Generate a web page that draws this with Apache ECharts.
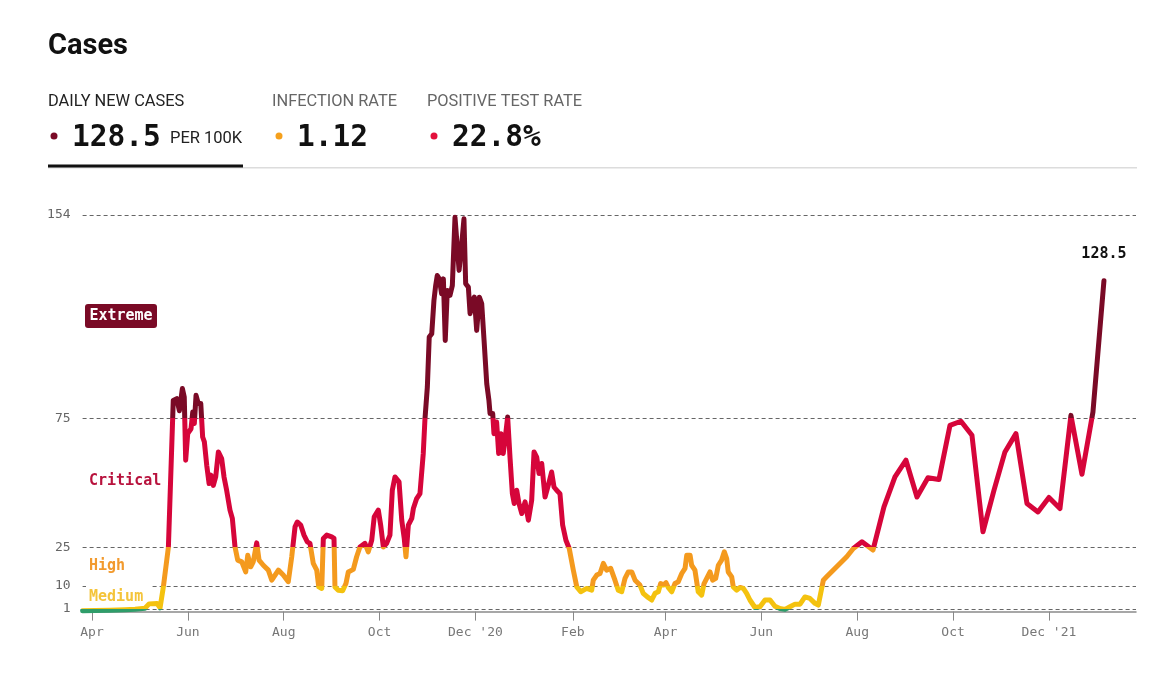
<!DOCTYPE html>
<html>
<head>
<meta charset="utf-8">
<script src="https://cdn.jsdelivr.net/npm/echarts@6/dist/echarts.min.js"></script>
<style>
  html, body { margin: 0; padding: 0; background: #fff; }
  #chart { width: 1170px; height: 675px; }
</style>
</head>
<body>
<div id="chart"></div>
<script>
// ---- Data ----
// x: days since 2020-04-01, y: daily new cases per 100K
const startDate = '2020-04-01';
const dayOffsets = [
  -6, 2, 11.5, 21, 27.4, 33.7, 36.3, 41.4, 43.3, 44.5, 45.4, 48.6, 51.7, 53.9, 55.6, 57.5, 58.7, 59.6, 60.9, 63,
  64.1, 65.1, 66.2, 67.6, 69.2, 70.4, 71.5, 73, 74.5, 75.7, 77.2, 78.7, 80.4, 82.5, 84, 85.7, 87.8, 89.3, 91, 92.7,
  95.3, 97.8, 99.1, 101, 102.6, 104.8, 106.3, 109, 112.2, 114.4, 118.6, 121.7, 124.9, 127.1, 129.2, 130.6, 132.8, 134.9, 137, 138.7,
  140.8, 143, 144.3, 146.2, 147.2, 149.4, 152.5, 154, 154.6, 156.7, 159.5, 161.6, 163.1, 166.3, 168.4, 170.5, 173.7, 175.8, 178, 179.6,
  182.2, 183.7, 185.4, 187.5, 189.6, 191.1, 192.8, 195.4, 197.1, 198.7, 199.8, 201.3, 203.5, 204.5, 206.6, 208.7, 210.8, 211.9, 213.4, 214.6,
  216.2, 217.6, 218.7, 219.7, 221, 222.5, 223.6, 224.8, 226.1, 227.8, 229.3, 231, 232.1, 233.6, 235.3, 236.7, 237.8, 239.5, 240.6, 242,
  243.3, 244.8, 246.5, 248, 249.5, 251.2, 252.6, 253.3, 255, 255.8, 257.5, 258.8, 260.3, 261.7, 263.3, 264.5, 266, 267.5, 268.7, 270.3,
  271.7, 273.5, 275.6, 277.7, 279.8, 281.3, 283, 284.5, 286.2, 288.3, 290.4, 292.5, 294, 295.7, 297.8, 299.5, 301.6, 303.7, 306.3, 308.5,
  311, 314.8, 318, 319, 321.2, 323.3, 325.4, 327.5, 330.1, 332.8, 334.9, 337.1, 339.2, 341.3, 343.5, 345.6, 348.7, 350.8, 353.4, 356.2,
  358.3, 360.4, 361.9, 363.6, 365.3, 366.7, 368.9, 371, 373.1, 375.3, 377.4, 378.5, 380.6, 381.6, 383.7, 385.8, 388, 389.5, 391.2, 393.3,
  395, 396.9, 398.6, 400.7, 402.4, 403.9, 404.9, 407.1, 408.1, 410.3, 412.4, 414.5, 416.6, 418.7, 421.9, 425.1, 428.3, 431.5, 434.6, 437.8,
  441, 444.2, 447.4, 450.6, 453.7, 456.9, 460.1, 462.2, 465.4, 467.5, 473.9, 480.3, 484.5, 490, 497, 504, 511, 518, 525, 532,
  539, 546, 553, 560, 567, 574, 581, 588, 595, 602, 609, 616, 623, 630, 637, 644
];
const casesPer100k = [
  0.3, 0.4, 0.5, 0.7, 0.9, 1.3, 3.0, 3.1, 1.5, 1.2, 9.6, 25, 82, 82.7, 78, 86.6, 83.3, 58.8, 69.1, 71,
  77.5, 73, 84, 80.8, 80.8, 67.8, 65.9, 56.8, 49.7, 53, 49, 52.3, 62, 59.4, 52.3, 47, 39.4, 36.2, 25.1, 20,
  19.3, 15.4, 21.9, 17.4, 19.3, 26.7, 20, 18, 16.1, 12.2, 16.1, 14.2, 11.6, 21.3, 32.9, 34.8, 33.6, 29.7, 27.1, 26.5,
  18.7, 16.1, 9.6, 9, 28.4, 29.7, 29, 28.4, 9.6, 8.3, 8.1, 10.9, 15.4, 16.4, 21.3, 25.1, 26.5, 23.2, 27.7, 36.8,
  39.4, 33.6, 25.1, 26.5, 29.7, 47.1, 52.3, 50.4, 35.5, 28.4, 21.3, 33.6, 36.2, 40, 43.9, 45.8, 61.4, 74.9, 87.2, 106.6,
  107.9, 120.8, 126.6, 130.5, 129.2, 123.4, 129.2, 105.3, 124.7, 122.8, 126.6, 153.1, 153.8, 132.5, 142.8, 152.5, 127.3, 126, 115.7, 120.8,
  122.1, 109.2, 122.1, 119.6, 105.3, 88.5, 82, 76.9, 76.9, 69.1, 73.6, 61.4, 69.1, 61.4, 69.1, 75.6, 60, 45.8, 42, 47.1,
  42, 38.1, 42.6, 35.5, 43.2, 62, 60, 53.6, 57.5, 44.5, 49.1, 54.2, 48.4, 47.1, 45.8, 33.6, 27.7, 24.5, 16.1, 9.6,
  7.7, 9, 8.3, 12.2, 14.2, 14.8, 18.7, 16.1, 16.8, 12.2, 8.3, 7.7, 12.9, 15.4, 15.4, 12.2, 10.3, 7.1, 5.7, 4.5,
  7.1, 7.7, 10.9, 10.3, 11.2, 9.4, 7.7, 10.9, 11.6, 14.8, 16.8, 21.9, 21.9, 18, 16.1, 7.7, 6.4, 10.9, 12.9, 15.4,
  12.2, 12.9, 18, 20, 23.2, 20.6, 15.4, 13.5, 9.6, 8.3, 9.4, 9, 7.1, 4.5, 1.6, 1.9, 4.5, 4.5, 2.1, 1.2,
  0.85, 1.9, 2.9, 2.9, 5.7, 5.1, 3.2, 2.5, 12.2, 13.5, 17.4, 21.3, 24.5, 27.1, 23.9, 40.7, 52.3, 58.8, 44.5, 52,
  51.3, 72.3, 73.9, 68.5, 31, 47.1, 62, 69.1, 42, 38.7, 44.3, 40, 76.2, 53.3, 77.5, 128.5
];
const refLineValues = [154, 75, 25, 10, 1];
const tickDates = ['2020-04-01','2020-06-01','2020-08-01','2020-10-01','2020-12-01','2021-02-01',
                   '2021-04-01','2021-06-01','2021-08-01','2021-10-01','2021-12-01'];
const tickLabels = ['Apr','Jun','Aug','Oct',"Dec '20",'Feb','Apr','Jun','Aug','Oct',"Dec '21"];
const axisStartDay = -6;
const axisEndDay = 664.4;
const levelNames = ['Extreme','Critical','High','Medium'];
const metricTitles = ['DAILY NEW CASES','INFECTION RATE','POSITIVE TEST RATE'];
const metricValues = ['128.5','1.12','22.8%'];

// ---- helpers ----
const DAY = 86400000;
function parseUTC(s) { const p = s.split('-').map(Number); return Date.UTC(p[0], p[1]-1, p[2]); }
const base = parseUTC(startDate);
const seriesData = dayOffsets.map((d, i) => [d, casesPer100k[i]]);
const tickDays = tickDates.map(s => Math.round((parseUTC(s) - base) / DAY));
const last = seriesData[seriesData.length - 1];

const C = {
  extreme: '#7a0a26', critical: '#d6053a', high: '#f49a1e', medium: '#f4c20f', low: '#2f9d6a'
};
const MONO = '"DejaVu Sans Mono", "Liberation Mono", monospace';
const SANS = 'Roboto, "Noto Sans", sans-serif';

const chart = echarts.init(document.getElementById('chart'), null, { renderer: 'canvas' });

const option = {
  animation: false,
  backgroundColor: '#fff',
  grid: { left: 82.6, right: 34, top: 215, bottom: 63.4, containLabel: false },
  xAxis: {
    type: 'value',
    min: axisStartDay,
    max: axisEndDay,
    axisLine: { show: true, lineStyle: { color: '#8a8a8a', width: 1.5 } },
    axisTick: { show: true, customValues: tickDays, length: 9, lineStyle: { color: '#888', width: 1 } },
    axisLabel: {
      show: true, customValues: tickDays, margin: 15,
      fontFamily: MONO, fontSize: 13, color: '#777',
      formatter: function (val) {
        const i = tickDays.indexOf(Math.round(val));
        return i >= 0 ? tickLabels[i] : '';
      }
    },
    splitLine: { show: false }
  },
  yAxis: {
    type: 'value', min: 0, max: 154,
    axisLine: { show: false }, axisTick: { show: false }, axisLabel: { show: false },
    splitLine: { show: false }
  },
  visualMap: {
    type: 'piecewise', show: false, dimension: 1, seriesIndex: 0,
    pieces: [
      { lt: 1, color: C.low },
      { gte: 1, lt: 10, color: C.medium },
      { gte: 10, lt: 25, color: C.high },
      { gte: 25, lt: 75, color: C.critical },
      { gte: 75, color: C.extreme }
    ]
  },
  series: [{
    type: 'line',
    data: seriesData,
    showSymbol: false,
    clip: false,
    lineStyle: { width: 5, join: 'round', cap: 'round' },
    z: 5,
    markLine: {
      silent: true,
      symbol: ['none', 'none'],
      z: 1,
      lineStyle: { type: [4, 3], color: '#666', width: 1 },
      label: {
        show: true, position: 'start', distance: 12,
        fontFamily: MONO, fontSize: 13, color: '#666',
        formatter: p => String(p.value)
      },
      emphasis: { disabled: true },
      data: refLineValues.map(v => ({ yAxis: v }))
    },
    markPoint: {
      silent: true,
      symbol: 'circle', symbolSize: 0,
      data: [{ coord: last, value: last[1] }],
      label: {
        show: true, position: 'top', distance: 19,
        fontFamily: MONO, fontWeight: 'bold', fontSize: 15, color: '#111',
        formatter: p => Number(p.value).toFixed(1)
      }
    }
  }],
  graphic: [
    { type: 'text', z: 100, style: { x: 48, y: 47, text: 'Cases', font: 'bold 29px ' + SANS, fill: '#111', textVerticalAlign: 'middle' } },
    { type: 'text', z: 100, style: { x: 48, y: 102, text: metricTitles[0], font: '16.4px ' + SANS, fill: '#222', textVerticalAlign: 'middle' } },
    { type: 'text', z: 100, style: { x: 272, y: 102, text: metricTitles[1], font: '16.4px ' + SANS, fill: '#666', textVerticalAlign: 'middle' } },
    { type: 'text', z: 100, style: { x: 427, y: 102, text: metricTitles[2], font: '16.4px ' + SANS, fill: '#666', textVerticalAlign: 'middle' } },
    { type: 'circle', z: 100, shape: { cx: 54, cy: 136, r: 3.5 }, style: { fill: C.extreme } },
    { type: 'circle', z: 100, shape: { cx: 279, cy: 136, r: 3.5 }, style: { fill: '#f5a01c' } },
    { type: 'circle', z: 100, shape: { cx: 434, cy: 136, r: 3.5 }, style: { fill: '#e3103c' } },
    { type: 'text', z: 100, style: { x: 72, y: 138, text: metricValues[0], font: 'bold 29.5px ' + MONO, fill: '#111', textVerticalAlign: 'middle' } },
    { type: 'text', z: 100, style: { x: 170, y: 139, text: 'PER 100K', font: '16.5px ' + SANS, fill: '#222', textVerticalAlign: 'middle' } },
    { type: 'text', z: 100, style: { x: 297, y: 138, text: metricValues[1], font: 'bold 29.5px ' + MONO, fill: '#111', textVerticalAlign: 'middle' } },
    { type: 'text', z: 100, style: { x: 452, y: 138, text: metricValues[2], font: 'bold 29.5px ' + MONO, fill: '#111', textVerticalAlign: 'middle' } },
    { type: 'rect', z: 100, shape: { x: 48, y: 164.5, width: 195, height: 3 }, style: { fill: '#111' } },
    { type: 'rect', z: 99, shape: { x: 48, y: 167, width: 1089, height: 1.5 }, style: { fill: '#dcdcdc' } },
    { type: 'rect', z: 100, shape: { x: 85, y: 304, width: 72, height: 24, r: 3 }, style: { fill: C.extreme } },
    { type: 'text', z: 101, style: { x: 121, y: 316, text: levelNames[0], font: 'bold 15px ' + MONO, fill: '#fff', textAlign: 'center', textVerticalAlign: 'middle' } },
    { type: 'text', z: 100, style: { x: 89, y: 481, text: levelNames[1], font: 'bold 15px ' + MONO, fill: '#b8123d', textVerticalAlign: 'middle' } },
    { type: 'text', z: 100, style: { x: 89, y: 566, text: levelNames[2], font: 'bold 15px ' + MONO, fill: '#f29a2e', textVerticalAlign: 'middle' } },
    { type: 'rect', z: 99, shape: { x: 86, y: 583, width: 64, height: 6 }, style: { fill: '#fff' } },
    { type: 'text', z: 100, style: { x: 89, y: 597, text: levelNames[3], font: 'bold 15px ' + MONO, fill: '#f4c43a', textVerticalAlign: 'middle' } }
  ]
};
chart.setOption(option);
</script>
</body>
</html>
